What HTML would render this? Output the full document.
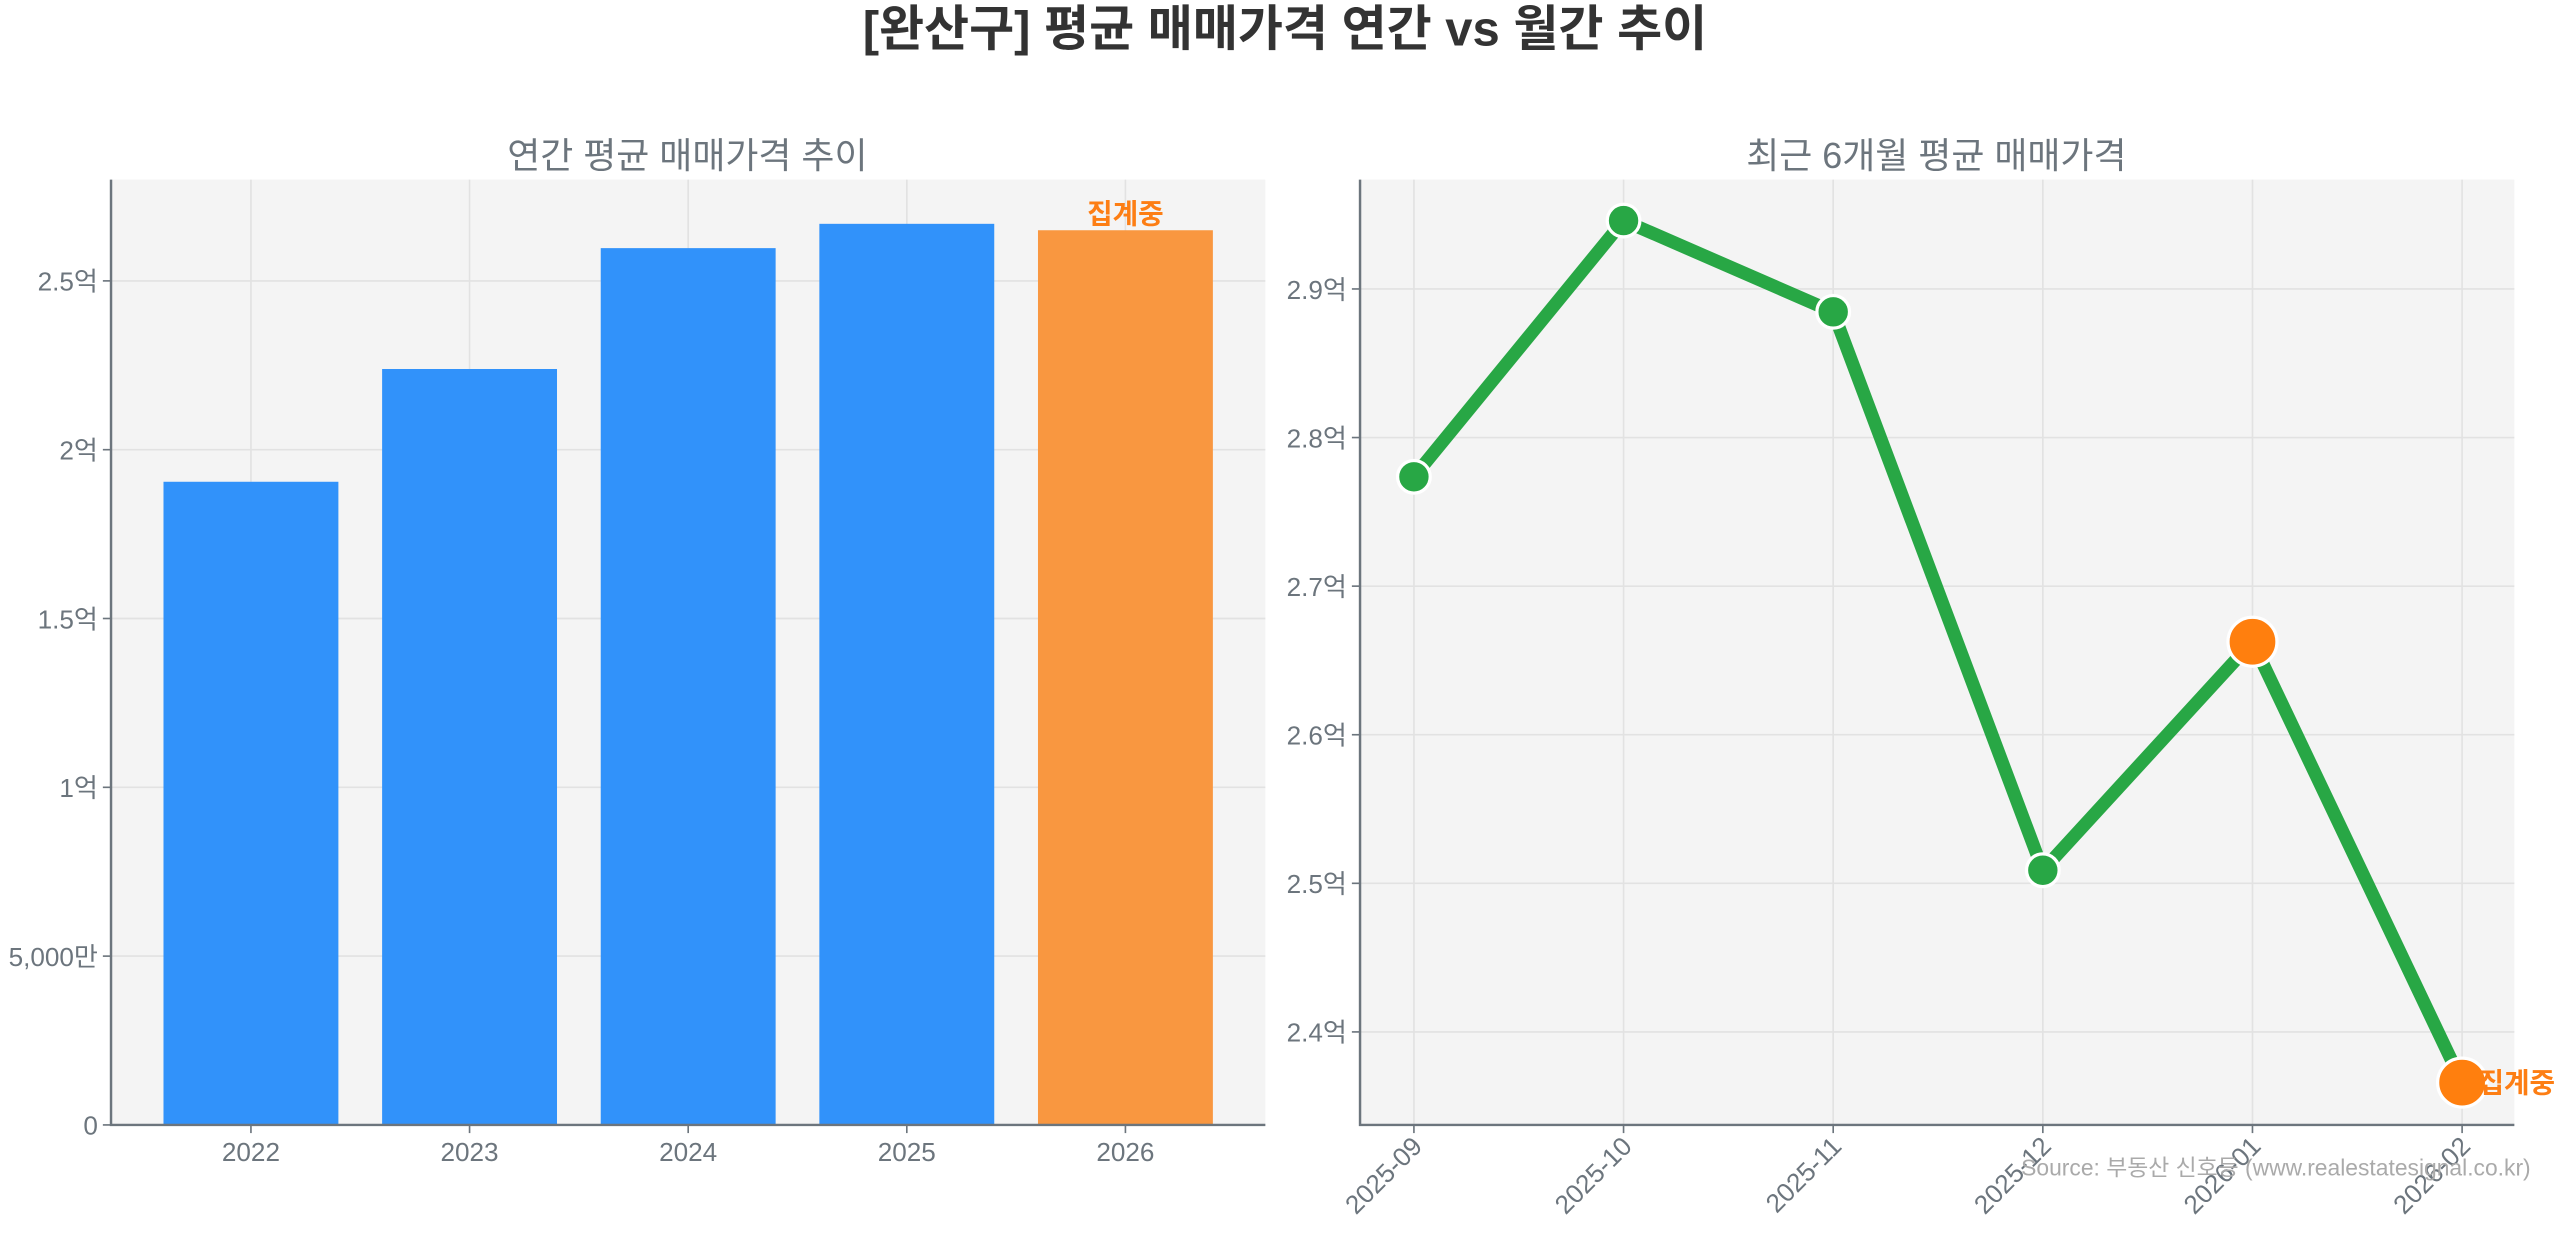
<!DOCTYPE html>
<html><head><meta charset="utf-8"><style>
body{margin:0;background:#fff;}
svg text{font-family:"Liberation Sans","Noto Sans CJK KR",sans-serif;}
</style></head><body>
<svg id="c" width="2560" height="1234" xmlns="http://www.w3.org/2000/svg">
<g transform="scale(1.6327)">
<text x="787" y="28" text-anchor="middle" font-size="30" font-weight="bold" fill="#333">[완산구] 평균 매매가격 연간 vs 월간 추이</text>
<text x="421" y="103" text-anchor="middle" font-size="22" fill="#6c757d">연간 평균 매매가격 추이</text>
<text x="1186" y="103" text-anchor="middle" font-size="22" fill="#6c757d">최근 6개월 평균 매매가격</text>
<g id="L"></g><g id="R"></g>
<text x="1550" y="720" text-anchor="end" font-size="14" fill="#aaa">Source: 부동산 신호등 (www.realestatesignal.co.kr)</text>
</g>
</svg>
<script>
const years=['2022','2023','2024','2025','2026'];
const yearVals=[1.905,2.239,2.597,2.669,2.650];
const leftTicks=[0,0.5,1,1.5,2,2.5];
const leftTickLabels=['0','5,000만','1억','1.5억','2억','2.5억'];
const months=['2025-09','2025-10','2025-11','2025-12','2026-01','2026-02'];
const monthVals=[2.7736,2.946,2.8846,2.5088,2.6626,2.3659];
const rightTicks=[2.4,2.5,2.6,2.7,2.8,2.9];
const rightTickLabels=['2.4억','2.5억','2.6억','2.7억','2.8억','2.9억'];
const NS='http://www.w3.org/2000/svg';
function mk(p,t,a,txt){const e=document.createElementNS(NS,t);for(const k in a)e.setAttribute(k,a[k]);if(txt!=null)e.textContent=txt;p.appendChild(e);return e;}
// left
const L=document.getElementById('L');
const lx0=68,lx1=775,ly0=110,ly1=689,lmax=2.8;
const ly=v=>ly1-(v/lmax)*(ly1-ly0);
const lbw=(lx1-lx0)/5.28;
const lx=i=>lx0+(lx1-lx0)*(0.5+i+0.14)/5.28;
let bg=mk(L,'rect',{x:lx0,y:ly0,width:lx1-lx0,height:ly1-ly0,fill:'#f4f4f4'});


leftTicks.forEach((v,i)=>{
 mk(L,'line',{x1:lx0,x2:lx1,y1:ly(v),y2:ly(v),stroke:'#e2e2e2'});
 mk(L,'line',{x1:lx0-5,x2:lx0,y1:ly(v),y2:ly(v),stroke:'#6c757d'});
 const t=mk(L,'text',{x:lx0-8,y:ly(v)+6,'text-anchor':'end','font-size':16,fill:'#6c757d'},leftTickLabels[i]);
 
 
});
years.forEach((y,i)=>{
 const cx=lx(i);
 mk(L,'line',{x1:cx,x2:cx,y1:ly0,y2:ly1,stroke:'#e2e2e2'});
 const b=mk(L,'rect',{x:cx-lbw*0.8/2,y:ly(yearVals[i]),width:lbw*0.8,height:ly1-ly(yearVals[i]),fill:i==4?'#f99740':'#3192fa'});
 
 
 mk(L,'line',{x1:cx,x2:cx,y1:ly1,y2:ly1+5,stroke:'#6c757d'});
 const t=mk(L,'text',{x:cx,y:ly1+22,'text-anchor':'middle','font-size':16,fill:'#6c757d'},y);
 
 
});
const pl=mk(L,'text',{x:lx(4),y:ly(yearVals[4])-4,'text-anchor':'middle','font-size':17,'font-weight':'bold',fill:'#fd7e14'},'집계중');


mk(L,'path',{d:`M${lx0} ${ly0}V${ly1}H${lx1}`,stroke:'#6c757d',fill:'none','stroke-width':1.5});
// right
const R=document.getElementById('R');
const rx0=833,rx1=1540,ry0=110,ry1=689,rmin=2.3374,rmax=2.9736;
const ry=v=>ry1-(v-rmin)/(rmax-rmin)*(ry1-ry0);
const rx=i=>866+i*128.4;
bg=mk(R,'rect',{x:rx0,y:ry0,width:rx1-rx0,height:ry1-ry0,fill:'#f4f4f4'});


rightTicks.forEach((v,i)=>{
 mk(R,'line',{x1:rx0,x2:rx1,y1:ry(v),y2:ry(v),stroke:'#e2e2e2'});
 mk(R,'line',{x1:rx0-5,x2:rx0,y1:ry(v),y2:ry(v),stroke:'#6c757d'});
 const t=mk(R,'text',{x:rx0-8,y:ry(v)+6,'text-anchor':'end','font-size':16,fill:'#6c757d'},rightTickLabels[i]);
 
 
});
months.forEach((m,i)=>{
 mk(R,'line',{x1:rx(i),x2:rx(i),y1:ry0,y2:ry1,stroke:'#e2e2e2'});
 mk(R,'line',{x1:rx(i),x2:rx(i),y1:ry1,y2:ry1+5,stroke:'#6c757d'});
 const t=mk(R,'text',{x:rx(i)+6,y:ry1+14,'text-anchor':'end','font-size':16,fill:'#6c757d',transform:`rotate(-45 ${rx(i)+6} ${ry1+14})`},m);
 
 
});
const ln=mk(R,'polyline',{points:monthVals.map((v,i)=>rx(i)+','+ry(v)).join(' '),fill:'none',stroke:'#28a745','stroke-width':8,'stroke-linejoin':'round'});


monthVals.forEach((v,i)=>{
 const big=i>=4;
 const c=mk(R,'circle',{cx:rx(i),cy:ry(v),r:big?15:10,fill:big?'#ff7f0e':'#28a745',stroke:'#fff','stroke-width':2});
 
 
});
const pr=mk(R,'text',{x:rx(5)+10,y:ry(monthVals[5])+6,'font-size':17,'font-weight':'bold',fill:'#fd7e14'},'집계중');


mk(R,'path',{d:`M${rx0} ${ry0}V${ry1}H${rx1}`,stroke:'#6c757d',fill:'none','stroke-width':1.5});
</script>
</body></html>
